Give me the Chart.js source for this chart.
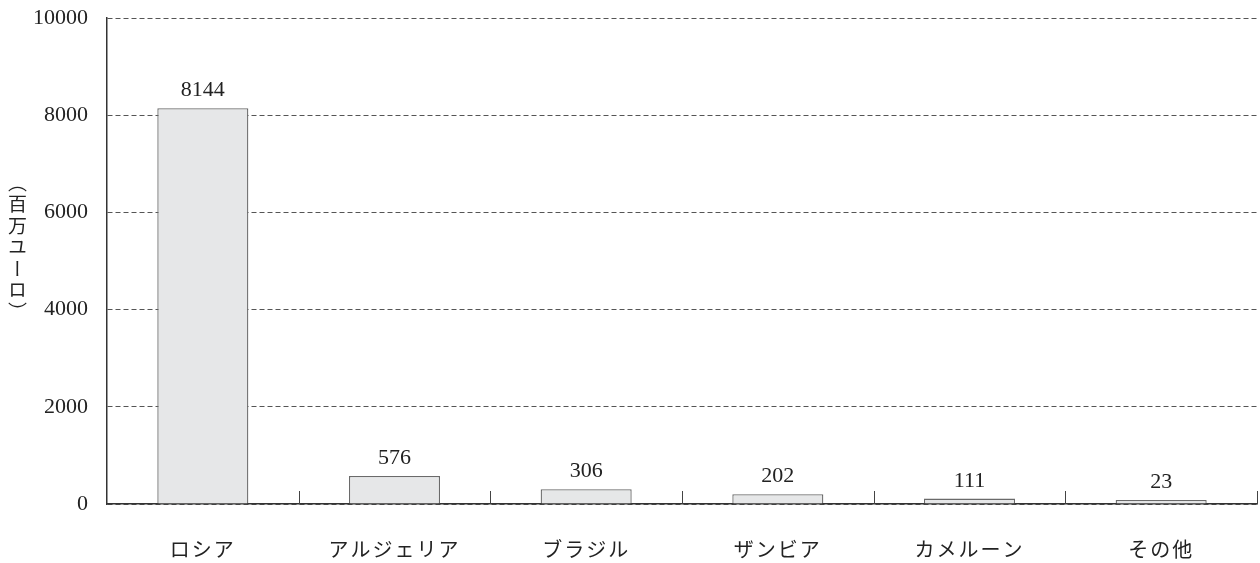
<!DOCTYPE html>
<html lang="ja">
<head>
<meta charset="utf-8">
<script src="https://cdn.jsdelivr.net/npm/chart.js@4.4.1/dist/chart.umd.min.js"></script>
<style>
  html, body { margin: 0; padding: 0; background: #ffffff; }
  #wrap { width: 1260px; height: 563px; position: relative; }
  #chart { position: absolute; left: 0; top: 0; }
  /* Vertical axis title, set in Japanese vertical writing */
  #ytitle {
    position: absolute;
    left: 7px;
    top: 173px;
    writing-mode: vertical-rl;
    text-orientation: upright;
    font-family: 'Noto Sans CJK JP', sans-serif;
    font-size: 19px;
    line-height: 20px;
    letter-spacing: 2.5px;
    color: #222222;
    white-space: nowrap;
  }
</style>
</head>
<body>
<div id="wrap">
  <canvas id="chart" width="1260" height="563"></canvas>
  <div id="ytitle"></div>
</div>
<script>
// Categories and values (百万ユーロ)
const categories = ['ロシア', 'アルジェリア', 'ブラジル', 'ザンビア', 'カメルーン', 'その他'];
const values = [8144, 576, 306, 202, 111, 23];
const yTicks = [0, 2000, 4000, 6000, 8000, 10000];
const yTitle = '（百万ユーロ）';

document.getElementById('ytitle').textContent = yTitle;

const serif = "'Liberation Serif', 'DejaVu Serif', 'Noto Sans CJK JP', serif";
const jp = "'Noto Sans CJK JP', 'Noto Sans', sans-serif";

// Short upward tick marks on the category axis, between categories
const categoryTicks = {
  id: 'categoryTicks',
  afterDatasetsDraw(chart) {
    const { ctx, scales: { x }, chartArea } = chart;
    ctx.save();
    ctx.strokeStyle = '#444444';
    ctx.lineWidth = 1;
    for (let i = 1; i <= categories.length; i++) {
      const px = Math.round(x.getPixelForValue(i - 0.5)) + 0.5;
      ctx.beginPath();
      ctx.moveTo(px, chartArea.bottom - 13);
      ctx.lineTo(px, chartArea.bottom);
      ctx.stroke();
    }
    ctx.restore();
  }
};

// Slightly wider character spacing for the category labels
const spacedCategoryLabels = {
  id: 'spacedCategoryLabels',
  afterLayout(chart) {
    const sc = chart.scales.x;
    if (!sc || sc._spaced) return;
    const orig = sc.drawLabels.bind(sc);
    sc.drawLabels = function (area) {
      const c = this.ctx;
      const prev = c.letterSpacing;
      c.letterSpacing = '2px';
      orig(area);
      c.letterSpacing = prev || '0px';
    };
    sc._spaced = true;
  }
};

// Value labels above each bar
const valueLabels = {
  id: 'valueLabels',
  afterDatasetsDraw(chart) {
    const { ctx } = chart;
    const meta = chart.getDatasetMeta(0);
    ctx.save();
    ctx.font = '22px ' + serif;
    ctx.fillStyle = '#222222';
    ctx.textAlign = 'center';
    ctx.textBaseline = 'alphabetic';
    meta.data.forEach((bar, i) => {
      ctx.fillText(String(values[i]), bar.x, bar.y - 12);
    });
    ctx.restore();
  }
};

new Chart(document.getElementById('chart'), {
  type: 'bar',
  data: {
    labels: categories,
    datasets: [{
      data: values,
      backgroundColor: '#e6e7e8',
      borderColor: '#6a6a6a',
      borderWidth: 1.3,
      categoryPercentage: 1,
      barPercentage: 0.475,
      minBarLength: 4
    }]
  },
  options: {
    responsive: false,
    animation: false,
    events: [],
    layout: { padding: { top: 18, right: 3, left: 0, bottom: 0 } },
    plugins: {
      legend: { display: false },
      tooltip: { enabled: false },
      title: { display: false }
    },
    scales: {
      x: {
        offset: true,
        grid: { display: false },
        border: { display: true, color: '#333333', width: 1.5 },
        ticks: {
          padding: 25,
          color: '#222222',
          font: { family: jp, size: 20 },
          maxRotation: 0,
          autoSkip: false
        },
        afterFit(scale) { scale.height = 59; }
      },
      y: {
        min: 0,
        max: 10000,
        afterBuildTicks(scale) { scale.ticks = yTicks.map(v => ({ value: v })); },
        grid: {
          color: '#555555',
          lineWidth: 1,
          drawTicks: false
        },
        border: { display: true, color: '#333333', width: 1.5, dash: [5, 3] },
        ticks: {
          padding: 19,
          color: '#222222',
          font: { family: serif, size: 22 },
          callback: (v) => String(v)
        },
        afterFit(scale) {
          scale.width = 107;
          scale.paddingTop = 0;
          scale.paddingBottom = 0;
        }
      }
    }
  },
  plugins: [spacedCategoryLabels, categoryTicks, valueLabels]
});
</script>
</body>
</html>
